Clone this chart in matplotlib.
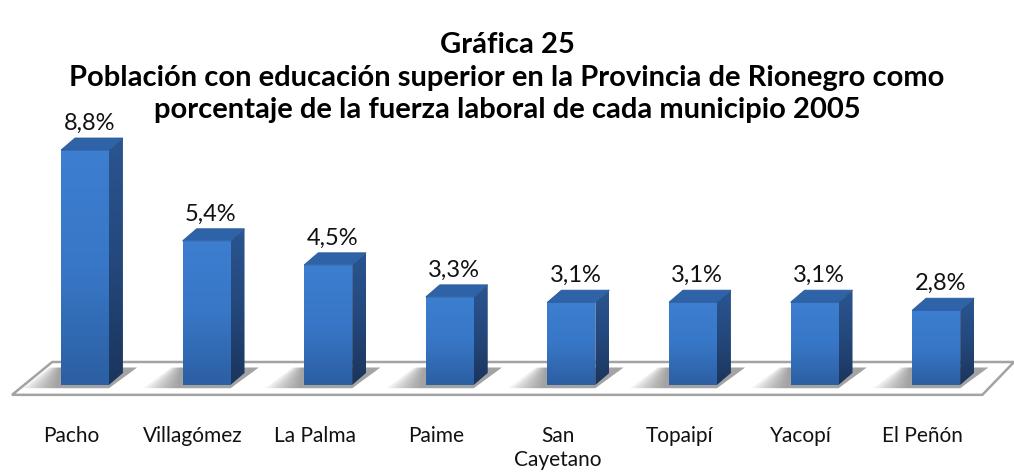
import numpy as np
import matplotlib
matplotlib.use('Agg')
import matplotlib.pyplot as plt
from matplotlib.patches import Polygon, Rectangle
from matplotlib.colors import LinearSegmentedColormap

plt.rcParams['font.family'] = ['Lato', 'DejaVu Sans']

# ---- data -----------------------------------------------------------------------
municipios = ['Pacho', 'Villagómez', 'La Palma', 'Paime', 'San\nCayetano',
              'Topaipí', 'Yacopí', 'El Peñón']
valores = [8.8, 5.4, 4.5, 3.3, 3.1, 3.1, 3.1, 2.8]
etiquetas = ['8,8%', '5,4%', '4,5%', '3,3%', '3,1%', '3,1%', '3,1%', '2,8%']
titulo = ['Gráfica 25',
          'Población con educación superior en la Provincia de Rionegro como',
          'porcentaje de la fuerza laboral de cada municipio 2005']

# ---- geometry (data units: x = category index, y = percent) ----------------------
HW = 0.197            # half width of the front face
DX, DY = 0.115, 0.45  # 3-D depth offset
FLOOR_BACK, FLOOR_FRONT = 0.86, -0.37

fig = plt.figure(figsize=(10.14, 4.76), dpi=100)
ax = fig.add_axes([0, 0, 1, 1])
ax.set_xlim(-0.699, 7.64)
ax.set_ylim(-3.41, 14.42)
ax.axis('off')

# floor
n = len(valores)
floor = Polygon([(-0.60, FLOOR_FRONT), (n - 0.62, FLOOR_FRONT),
                 (n - 0.36, FLOOR_BACK), (-0.27, FLOOR_BACK)],
                closed=True, fc='white', ec='#a3a3a3', lw=1.8, zorder=1)
ax.add_patch(floor)

# soft shadows on the floor, left of each bar
for i in range(n):
    for k in range(10):
        w = 0.32 - k * 0.03
        sh = Polygon([(i - HW - w, -0.12), (i + HW, -0.12),
                      (i + HW + DX * 2.0, 0.65), (i - HW - w * 0.3, 0.65)],
                     closed=True, fc='#606060', ec='none', alpha=0.08, zorder=2)
        ax.add_patch(sh)

front_cm = LinearSegmentedColormap.from_list('f', ['#2c5fa3', '#3877c7', '#3d7ed0'])
side_cm = LinearSegmentedColormap.from_list('s', ['#1b355c', '#24487c', '#2a5590'])
grad = np.linspace(0, 1, 64).reshape(-1, 1)

for i, (v, lab) in enumerate(zip(valores, etiquetas)):
    x0, x1 = i - HW, i + HW
    # front face with vertical gradient
    rect = Rectangle((x0, 0), 2 * HW, v, fc='none', ec='none', zorder=4)
    ax.add_patch(rect)
    im = ax.imshow(grad, cmap=front_cm, extent=[x0, x1, 0, v], origin='lower',
                   aspect='auto', zorder=4)
    im.set_clip_path(rect)
    # side face
    side = Polygon([(x1, 0), (x1 + DX, DY), (x1 + DX, v + DY), (x1, v)],
                   closed=True, fc='none', ec='none', zorder=4)
    ax.add_patch(side)
    im2 = ax.imshow(grad, cmap=side_cm, extent=[x1, x1 + DX, 0, v + DY],
                    origin='lower', aspect='auto', zorder=4)
    im2.set_clip_path(side)
    # top face
    top = Polygon([(x0, v), (x1, v), (x1 + DX, v + DY), (x0 + DX, v + DY)],
                  closed=True, fc='#2f63a8', ec='#2a5a9a', lw=0.6, zorder=5)
    ax.add_patch(top)
    # value label
    ax.text(i + DX * 0.3, v + 1.0, lab, ha='center', va='center',
            fontsize=17, color='#111111', zorder=6)
    # category label
    ax.text(i - 0.11, -1.55, municipios[i], ha='center', va='top',
            fontsize=15, color='#111111', linespacing=1.2)

# title, one text per line
for line, ypix in zip(titulo, [45, 78, 110]):
    fig.text(0.5, 1 - ypix / 476, line, ha='center', va='center', fontsize=21,
             fontweight='bold', color='#000000')

fig.savefig('out.png', dpi=100, facecolor='white')
